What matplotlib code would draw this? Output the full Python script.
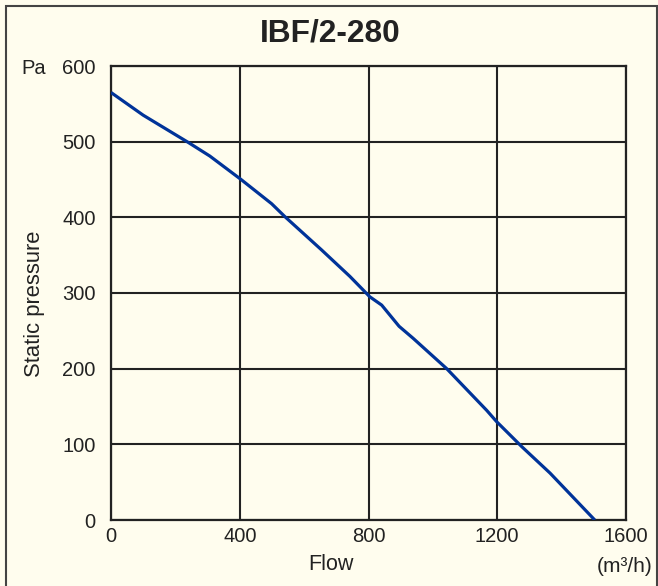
import matplotlib.pyplot as plt
from matplotlib.patches import Rectangle

# Fan curve
flow = [0, 100, 240, 307, 404, 499, 540, 654, 742, 804, 841, 895, 939,
        1043, 1167, 1198, 1276, 1364, 1503]
pressure = [565, 535, 499, 481, 450, 418, 401, 357, 322, 295, 284, 256, 240,
            200, 145, 130, 97, 62, 0]

x_ticks = [0, 400, 800, 1200, 1600]
y_ticks = [0, 100, 200, 300, 400, 500, 600]

BG = "#fffdee"
LINE = "#003399"
DARK = "#222222"

W, H = 658, 586

plt.rcParams['font.family'] = ['Liberation Sans', 'DejaVu Sans']

fig = plt.figure(figsize=(W / 100, H / 100), dpi=100, facecolor=BG)
ax = fig.add_axes([111 / W, 1 - 520 / H, 515 / W, 454 / H], facecolor=BG)

ax.plot(flow, pressure, color=LINE, linewidth=2.3, solid_capstyle='butt', zorder=3)

ax.set_xlim(0, 1600)
ax.set_ylim(0, 600)
ax.set_xticks(x_ticks)
ax.set_yticks(y_ticks)
ax.grid(True, color=DARK, linewidth=1.5)
ax.tick_params(length=0, labelsize=14.5, colors="#222222")
ax.tick_params(axis='y', pad=11)
ax.tick_params(axis='x', pad=5)
for s in ax.spines.values():
    s.set_color(DARK)
    s.set_linewidth(1.6)

# Labels and title placed in figure pixels
fig.text(330 / W, 1 - 33 / H, "IBF/2-280", ha='center', va='center',
         fontsize=22.8, fontweight='bold', color="#222222")
fig.text(34 / W, 1 - 68 / H, "Pa", ha='center', va='center', fontsize=14.5, color="#222222")
fig.text(35 / W, 1 - 304 / H, "Static pressure", ha='center', va='center',
         rotation=90, fontsize=15.8, color="#222222")
fig.text(331 / W, 1 - 565 / H, "Flow", ha='center', va='center', fontsize=15.5, color="#222222")
fig.text(625 / W, 1 - 566 / H, "(m³/h)", ha='center', va='center', fontsize=15, color="#222222")

# Outer frame (bottom edge runs off the image)
fig.patches.append(Rectangle((5.7 / W, -5 / H), (656.5 - 5.7) / W, (580 + 5) / H,
                             transform=fig.transFigure, fill=False,
                             edgecolor="#444444", linewidth=1.5))

fig.savefig("out.png", dpi=100, facecolor=BG)
